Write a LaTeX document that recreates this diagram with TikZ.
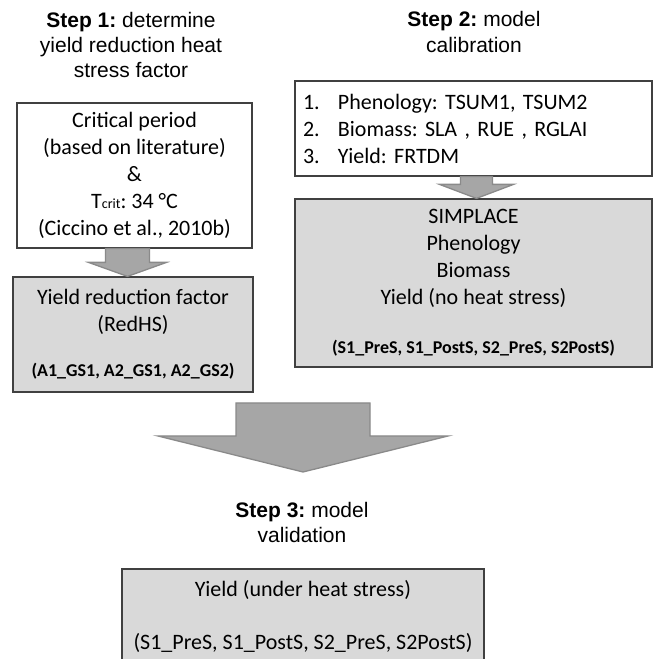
\documentclass[tikz,border=0pt]{standalone}
\usepackage{fontspec}
\setmainfont{Carlito}
\newfontfamily\headfont{Liberation Sans}
\usepackage{tikz}
\usetikzlibrary{calc}
\frenchspacing
\definecolor{cLine}{HTML}{404040}
\definecolor{cFill}{HTML}{D9D9D9}
\definecolor{cArrow}{HTML}{A6A6A6}
\definecolor{cArrowLine}{HTML}{8A8A8A}
\tikzset{
  box/.style     = {draw=cLine, line width=1.2pt, align=center, inner sep=0pt,
                    font=\fontsize{22}{27}\selectfont},
  inbox/.style   = {box, fill=white},
  outbox/.style  = {box, fill=cFill},
  heading/.style = {align=center, font=\headfont\fontsize{21}{25}\selectfont},
  fatarrow/.style = {fill=cArrow, draw=cArrowLine, line width=1.3pt},
}
% block arrow: top point, tip point, shaft half width, head half width, head length
\newcommand\blockarrow[5]{%
  \draw[fatarrow] let \p1=#1, \p2=#2 in
    (\x1-#3,\y1) -- (\x1+#3,\y1) -- (\x1+#3,\y2+#5) -- (\x1+#4,\y2+#5)
    -- (\x1,\y2) -- (\x1-#4,\y2+#5) -- (\x1-#3,\y2+#5) -- cycle;}
\newcommand\listitem[2]{\makebox[35pt][l]{#1}#2}
\newcommand\runs[1]{{\bfseries\fontsize{18}{20}\selectfont #1}}

\begin{document}
\begin{tikzpicture}[x=1pt, y=1pt]
  \useasboundingbox (0,0) rectangle (654,659);
  % ---- step 1 column ----
  \node[heading] (h1) at (131,614.5)
    {\textbf{Step 1:} determine\\ yield reduction heat\\ stress factor};
  \node[inbox, minimum width=235pt, minimum height=145pt] (crit) at (134.5,483.5)
    {Critical period\\ (based on literature)\\ \&\\
     T{\fontsize{14}{14}\selectfont crit}: 34 °C\\ (Ciccino et al., 2010b)};
  \node[outbox, minimum width=240pt, minimum height=115pt] (red) at (133,324.5)
    {Yield reduction factor\\ (RedHS)\\[18pt]
     \runs{(A1\_GS1, A2\_GS1, A2\_GS2)}};
  \blockarrow{($(crit.south)+(-7,0)$)}{($(red.north)+(-6,0)$)}{22pt}{39pt}{14pt}
  % ---- step 2 column ----
  \node[heading] (h2) at (474,627) {\textbf{Step 2:} model\\ calibration};
  \node[inbox, minimum width=357pt, minimum height=95pt, align=left,
        text width=341pt] (calib) at (473.5,530.5)
    {\listitem{1.}{Phenology: TSUM1, TSUM2}\\
     \listitem{2.}{Biomass: SLA , RUE , RGLAI}\\
     \listitem{3.}{Yield: FRTDM}};
  \node[outbox, minimum width=357pt, minimum height=168pt] (simp) at (473.5,376)
    {SIMPLACE\\ Phenology\\ Biomass\\ Yield (no heat stress)\\[22pt]
     \runs{(S1\_PreS, S1\_PostS, S2\_PreS, S2PostS)}};
  \blockarrow{($(calib.south)+(3,0)$)}{($(simp.north)+(3,0)$)}{16pt}{37pt}{14pt}
  % ---- step 3 ----
  \coordinate (bigtop) at (303,256);
  \coordinate (bigtip) at (303,187);
  \blockarrow{(bigtop)}{(bigtip)}{67pt}{145pt}{36pt}
  \node[heading] (h3) at (302,136.5) {\textbf{Step 3:} model\\ validation};
  \node[outbox, minimum width=362pt, minimum height=95pt] (valid) at (303,42.5)
    {Yield (under heat stress)\\[26pt] (S1\_PreS, S1\_PostS, S2\_PreS, S2PostS)};
\end{tikzpicture}
\end{document}
